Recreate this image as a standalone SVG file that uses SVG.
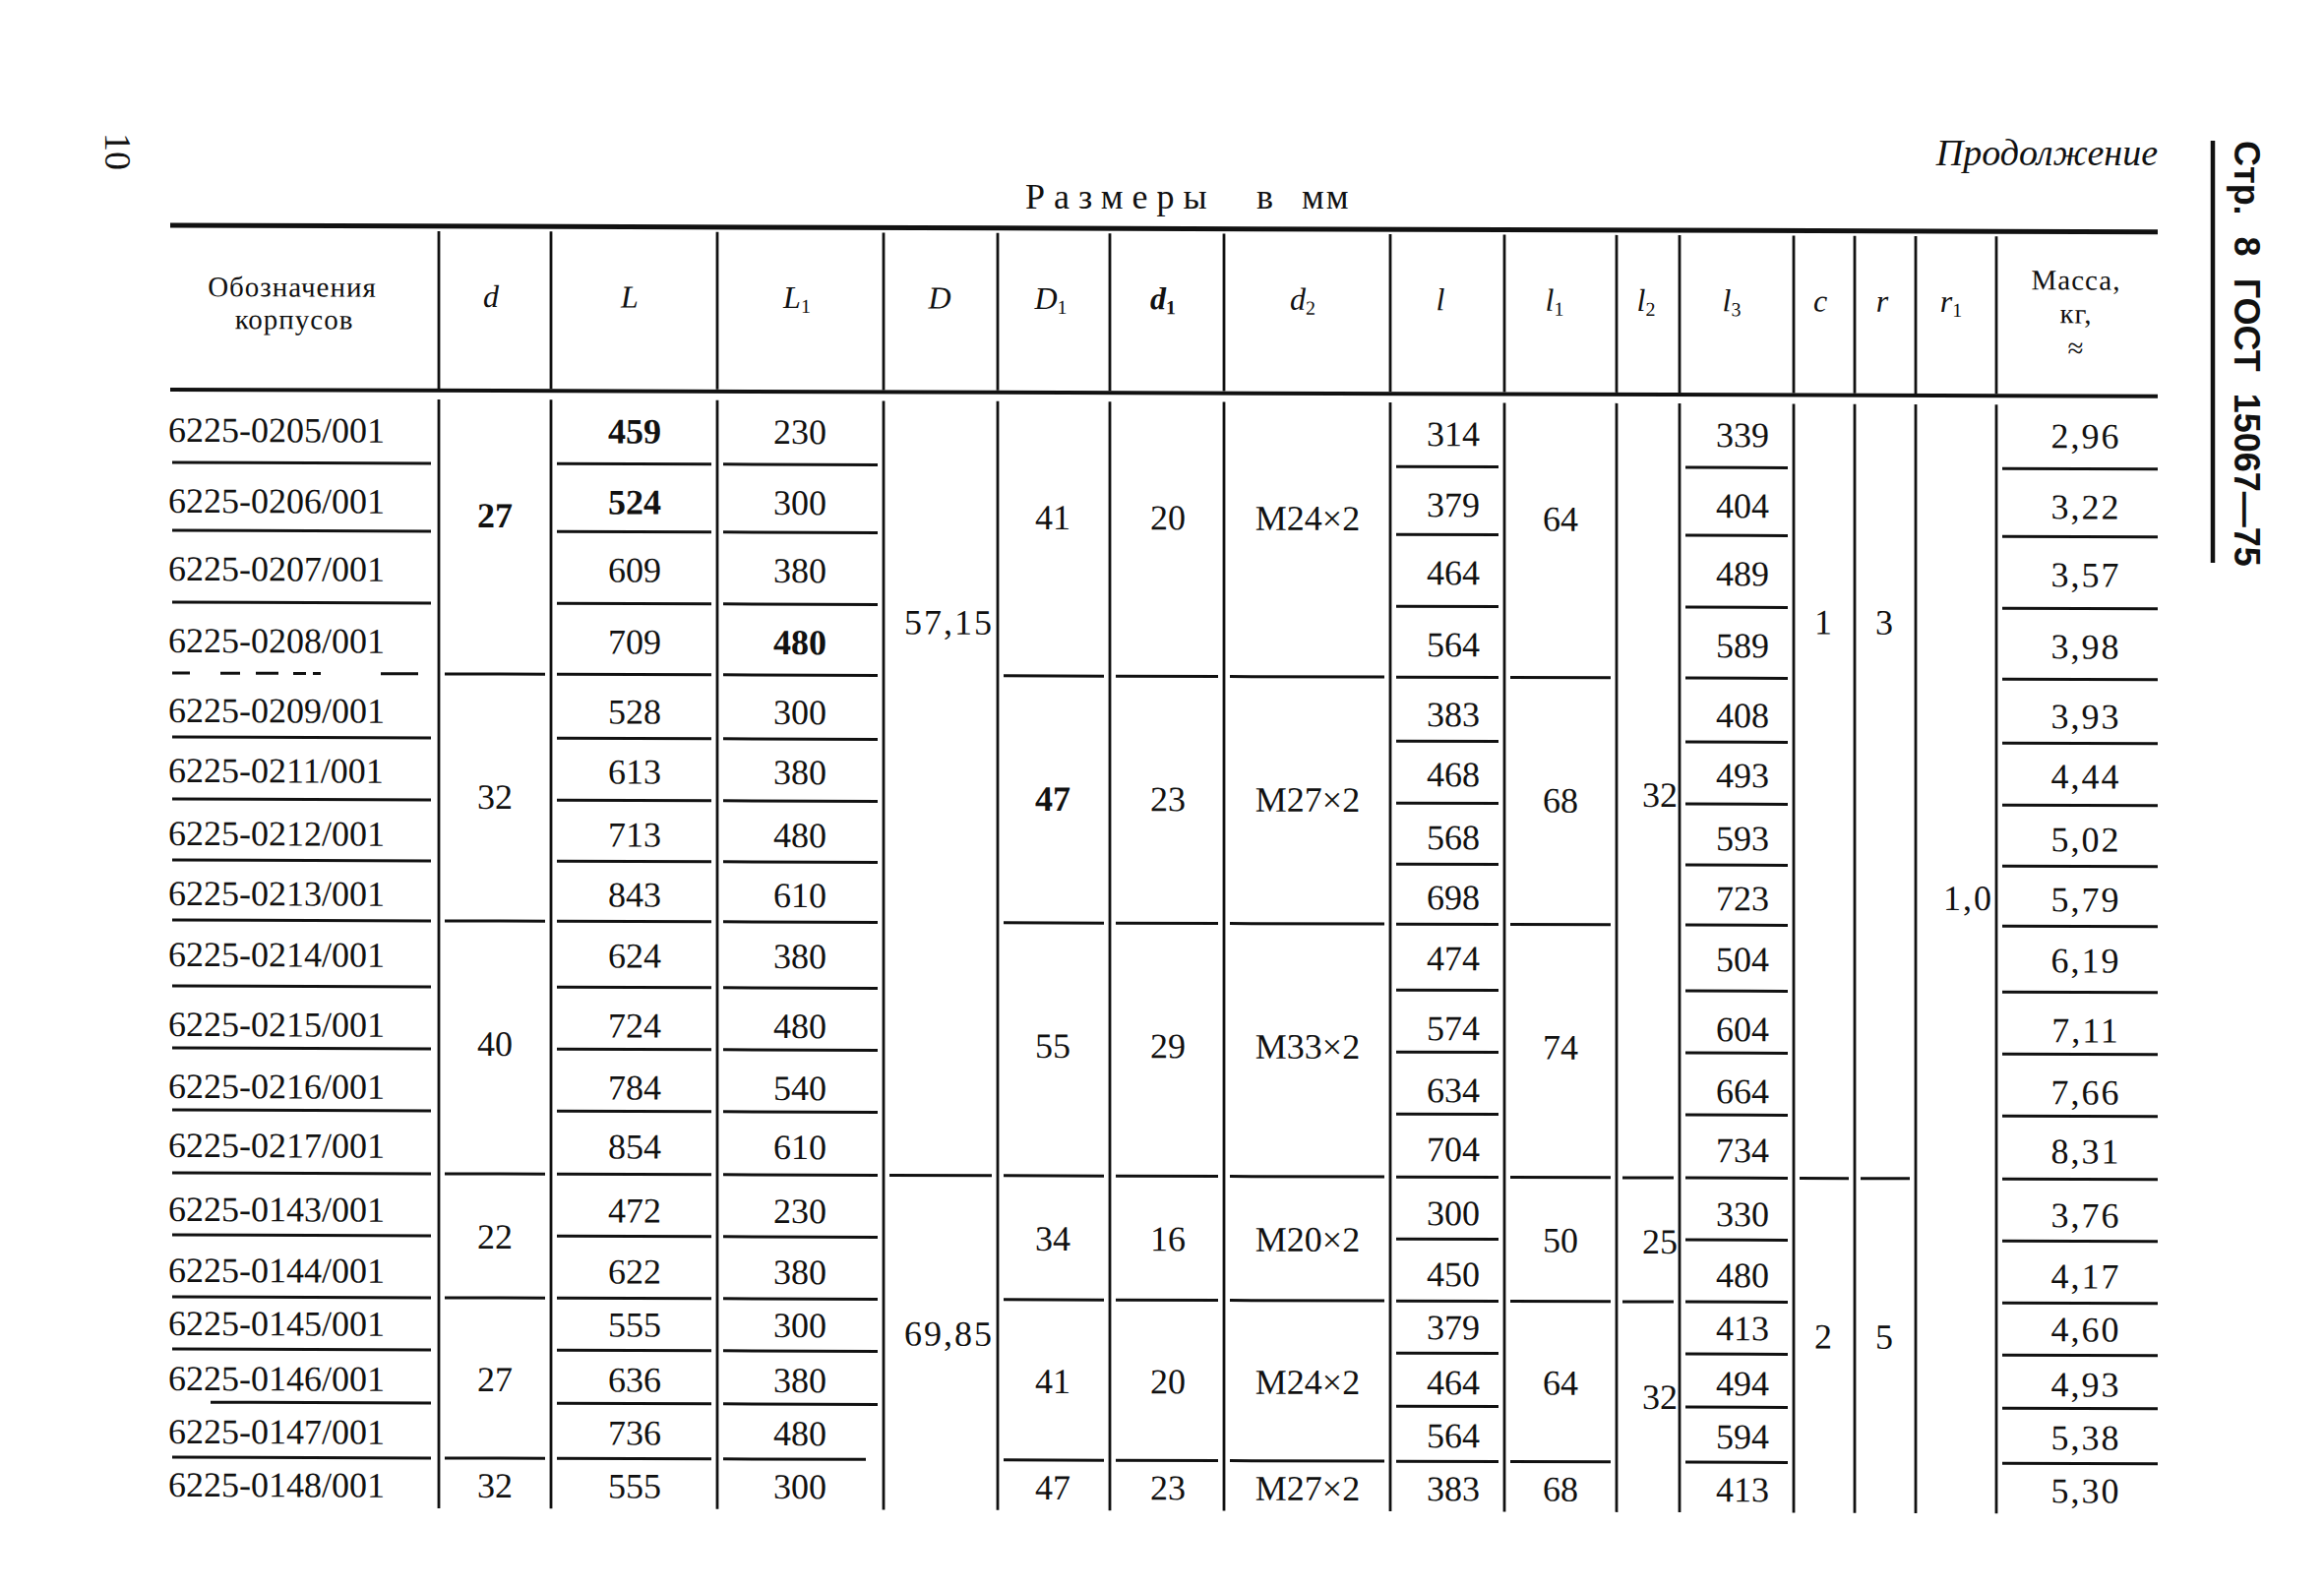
<svg xmlns="http://www.w3.org/2000/svg" width="2362" height="1615" viewBox="0 0 2362 1615">
<style>
.t{font-family:"Liberation Serif","Times New Roman",serif;fill:#111}
.v{font-size:36px;text-anchor:middle}
.s{font-size:36px}
.e{font-size:36px;text-anchor:end}
.b{font-weight:bold}
.h{font-size:32px;font-style:italic;text-anchor:middle}
.sub{font-size:20px;font-style:normal}
.hd{font-size:29px;text-anchor:middle;letter-spacing:1px}
.m{letter-spacing:2px}
.ln{stroke:#111;stroke-width:3;fill:none}
.vl{stroke:#111;stroke-width:2.8;fill:none}
</style>
<rect width="2362" height="1615" fill="#fff"/>

<g id="page-number">
<text class="t" font-size="38" transform="translate(107,135) rotate(90)">10</text>
</g>

<g id="side-title">
<line x1="2249" y1="143" x2="2249" y2="572" stroke="#111" stroke-width="4.5"/>
<text transform="translate(2271,143) rotate(90)" font-family="Liberation Sans, Arial, sans-serif" font-weight="bold" font-size="36" word-spacing="12" fill="#111">Стр. 8 ГОСТ 15067—75</text>
</g>

<g id="captions">
<text class="t" x="2193" y="168" font-size="38" font-style="italic" text-anchor="end">Продолжение</text>
<text class="t" y="212" font-size="36"><tspan x="1042" letter-spacing="9">Размеры</tspan><tspan x="1268"> в</tspan><tspan x="1323" letter-spacing="2">мм</tspan></text>
</g>

<g id="table" transform="translate(0,-0.574) skewY(0.19)">
<g id="rules">
<line x1="173" y1="229" x2="2193" y2="229" stroke="#111" stroke-width="5"/>
<line x1="173" y1="396" x2="2193" y2="396" stroke="#111" stroke-width="4"/>
<path class="vl" d="M446 234V394M560 234V394M729 234V394M898 234V394M1014 234V394M1128 234V394M1244 234V394M1413 234V394M1529 234V394M1643 234V394M1707 234V394M1823 234V394M1885 234V394M1947 234V394M2029 234V394"/>
<path class="vl" d="M446 405V1532M560 405V1532M729 405V1532M898 405V1532M1014 405V1532M1128 405V1532M1244 405V1532M1413 405V1532M1529 405V1532M1643 405V1532M1707 405V1532M1823 405V1532M1885 405V1532M1947 405V1532M2029 405V1532"/>
<path class="ln" d="M175 470H438M175 539H438M175 612H438M175 749H438M175 812H438M175 874H438M175 935H438M175 1002H438M175 1065H438M175 1128H438M175 1192H438M175 1255H438M175 1318H438M175 1371H438M214 1425H438M175 1481H438"/>
<path class="ln" stroke-width="2.2" d="M175 684H193M224 684H244M260 684H283M298 684H311M318 684H326M387 684H425"/>
<path class="ln" d="M566 470H723M566 539H723M566 612H723M566 684H723M566 749H723M566 812H723M566 874H723M566 935H723M566 1002H723M566 1065H723M566 1128H723M566 1192H723M566 1255H723M566 1318H723M566 1371H723M566 1425H723M566 1481H723"/>
<path class="ln" d="M735 470H892M735 539H892M735 612H892M735 684H892M735 749H892M735 812H892M735 874H892M735 935H892M735 1002H892M735 1065H892M735 1128H892M735 1192H892M735 1255H892M735 1318H892M735 1371H892M735 1425H892M735 1481H880"/>
<path class="ln" d="M1419 470H1523M1419 539H1523M1419 612H1523M1419 684H1523M1419 749H1523M1419 812H1523M1419 874H1523M1419 935H1523M1419 1002H1523M1419 1065H1523M1419 1128H1523M1419 1192H1523M1419 1255H1523M1419 1318H1523M1419 1371H1523M1419 1425H1523M1419 1481H1523"/>
<path class="ln" d="M1713 470H1817M1713 539H1817M1713 612H1817M1713 684H1817M1713 749H1817M1713 812H1817M1713 874H1817M1713 935H1817M1713 1002H1817M1713 1065H1817M1713 1128H1817M1713 1192H1817M1713 1255H1817M1713 1318H1817M1713 1371H1817M1713 1425H1817M1713 1481H1817"/>
<path class="ln" d="M2035 470H2193M2035 539H2193M2035 612H2193M2035 684H2193M2035 749H2193M2035 812H2193M2035 874H2193M2035 935H2193M2035 1002H2193M2035 1065H2193M2035 1128H2193M2035 1192H2193M2035 1255H2193M2035 1318H2193M2035 1371H2193M2035 1425H2193M2035 1481H2193"/>
<path class="ln" d="M452 684H554M452 935H554M452 1192H554M452 1318H554M452 1481H554"/>
<path class="ln" d="M1020 684H1122M1020 935H1122M1020 1192H1122M1020 1318H1122M1020 1481H1122"/>
<path class="ln" d="M1134 684H1238M1134 935H1238M1134 1192H1238M1134 1318H1238M1134 1481H1238"/>
<path class="ln" d="M1250 684H1407M1250 935H1407M1250 1192H1407M1250 1318H1407M1250 1481H1407"/>
<path class="ln" d="M1535 684H1637M1535 935H1637M1535 1192H1637M1535 1318H1637M1535 1481H1637"/>
<path class="ln" d="M904 1192H1008M1829 1192H1879M1891 1192H1941M1649 1192H1701M1649 1318H1701"/>
</g>

<g id="header-labels" class="t">
<text class="hd" x="297" y="301">Обозначения</text>
<text class="hd" x="299" y="334">корпусов</text>
<text class="h" x="499" y="311">d</text>
<text class="h" x="640" y="311">L</text>
<text class="h" x="810" y="311">L<tspan class="sub" dy="5">1</tspan></text>
<text class="h" x="955" y="311">D</text>
<text class="h" x="1068" y="311">D<tspan class="sub" dy="5">1</tspan></text>
<text class="h b" x="1182" y="311">d<tspan class="sub" dy="5">1</tspan></text>
<text class="h" x="1324" y="311">d<tspan class="sub" dy="5">2</tspan></text>
<text class="h" x="1464" y="311">l</text>
<text class="h" x="1580" y="311">l<tspan class="sub" dy="5">1</tspan></text>
<text class="h" x="1673" y="311">l<tspan class="sub" dy="5">2</tspan></text>
<text class="h" x="1760" y="311">l<tspan class="sub" dy="5">3</tspan></text>
<text class="h" x="1850" y="311">c</text>
<text class="h" x="1913" y="311">r</text>
<text class="h" x="1983" y="311">r<tspan class="sub" dy="5">1</tspan></text>
<text class="hd" x="2110" y="288">Масса,</text>
<text class="hd" x="2110" y="322">кг,</text>
<text class="hd" x="2110" y="357">≈</text>
</g>

<g id="designations" class="t s">
<text x="171" y="449">6225-0205/001</text>
<text x="171" y="521">6225-0206/001</text>
<text x="171" y="590">6225-0207/001</text>
<text x="171" y="663">6225-0208/001</text>
<text x="171" y="734">6225-0209/001</text>
<text x="171" y="795">6225-0211/001</text>
<text x="171" y="859">6225-0212/001</text>
<text x="171" y="920">6225-0213/001</text>
<text x="171" y="982">6225-0214/001</text>
<text x="171" y="1053">6225-0215/001</text>
<text x="171" y="1116">6225-0216/001</text>
<text x="171" y="1176">6225-0217/001</text>
<text x="171" y="1241">6225-0143/001</text>
<text x="171" y="1303">6225-0144/001</text>
<text x="171" y="1357">6225-0145/001</text>
<text x="171" y="1413">6225-0146/001</text>
<text x="171" y="1467">6225-0147/001</text>
<text x="171" y="1521">6225-0148/001</text>
</g>

<g id="col-L" class="t v">
<text x="645" y="449" class="b">459</text>
<text x="645" y="521" class="b">524</text>
<text x="645" y="590">609</text>
<text x="645" y="663">709</text>
<text x="645" y="734">528</text>
<text x="645" y="795">613</text>
<text x="645" y="859">713</text>
<text x="645" y="920">843</text>
<text x="645" y="982">624</text>
<text x="645" y="1053">724</text>
<text x="645" y="1116">784</text>
<text x="645" y="1176">854</text>
<text x="645" y="1241">472</text>
<text x="645" y="1303">622</text>
<text x="645" y="1357">555</text>
<text x="645" y="1413">636</text>
<text x="645" y="1467">736</text>
<text x="645" y="1521">555</text>
</g>

<g id="col-L1" class="t v">
<text x="813" y="449">230</text>
<text x="813" y="521">300</text>
<text x="813" y="590">380</text>
<text x="813" y="663" class="b">480</text>
<text x="813" y="734">300</text>
<text x="813" y="795">380</text>
<text x="813" y="859">480</text>
<text x="813" y="920">610</text>
<text x="813" y="982">380</text>
<text x="813" y="1053">480</text>
<text x="813" y="1116">540</text>
<text x="813" y="1176">610</text>
<text x="813" y="1241">230</text>
<text x="813" y="1303">380</text>
<text x="813" y="1357">300</text>
<text x="813" y="1413">380</text>
<text x="813" y="1467">480</text>
<text x="813" y="1521">300</text>
</g>

<g id="col-d" class="t v">
<text x="503" y="535" class="b">27</text>
<text x="503" y="821">32</text>
<text x="503" y="1072">40</text>
<text x="503" y="1268">22</text>
<text x="503" y="1413">27</text>
<text x="503" y="1521">32</text>
</g>

<g id="col-D" class="t e m">
<text x="1010" y="642">57,15</text>
<text x="1010" y="1365">69,85</text>
</g>

<g id="col-D1" class="t v">
<text x="1070" y="535">41</text>
<text x="1070" y="821" class="b">47</text>
<text x="1070" y="1072">55</text>
<text x="1070" y="1268">34</text>
<text x="1070" y="1413">41</text>
<text x="1070" y="1521">47</text>
</g>

<g id="col-d1" class="t v">
<text x="1187" y="535">20</text>
<text x="1187" y="821">23</text>
<text x="1187" y="1072">29</text>
<text x="1187" y="1268">16</text>
<text x="1187" y="1413">20</text>
<text x="1187" y="1521">23</text>
</g>

<g id="col-d2" class="t v">
<text x="1329" y="535">M24×2</text>
<text x="1329" y="821">M27×2</text>
<text x="1329" y="1072">M33×2</text>
<text x="1329" y="1268">M20×2</text>
<text x="1329" y="1413">M24×2</text>
<text x="1329" y="1521">M27×2</text>
</g>

<g id="col-l" class="t v">
<text x="1477" y="449">314</text>
<text x="1477" y="521">379</text>
<text x="1477" y="590">464</text>
<text x="1477" y="663">564</text>
<text x="1477" y="734">383</text>
<text x="1477" y="795">468</text>
<text x="1477" y="859">568</text>
<text x="1477" y="920">698</text>
<text x="1477" y="982">474</text>
<text x="1477" y="1053">574</text>
<text x="1477" y="1116">634</text>
<text x="1477" y="1176">704</text>
<text x="1477" y="1241">300</text>
<text x="1477" y="1303">450</text>
<text x="1477" y="1357">379</text>
<text x="1477" y="1413">464</text>
<text x="1477" y="1467">564</text>
<text x="1477" y="1521">383</text>
</g>

<g id="col-l1" class="t v">
<text x="1586" y="535">64</text>
<text x="1586" y="821">68</text>
<text x="1586" y="1072">74</text>
<text x="1586" y="1268">50</text>
<text x="1586" y="1413">64</text>
<text x="1586" y="1521">68</text>
</g>

<g id="col-l2" class="t e">
<text x="1705" y="815">32</text>
<text x="1705" y="1269">25</text>
<text x="1705" y="1427">32</text>
</g>

<g id="col-l3" class="t v">
<text x="1771" y="449">339</text>
<text x="1771" y="521">404</text>
<text x="1771" y="590">489</text>
<text x="1771" y="663">589</text>
<text x="1771" y="734">408</text>
<text x="1771" y="795">493</text>
<text x="1771" y="859">593</text>
<text x="1771" y="920">723</text>
<text x="1771" y="982">504</text>
<text x="1771" y="1053">604</text>
<text x="1771" y="1116">664</text>
<text x="1771" y="1176">734</text>
<text x="1771" y="1241">330</text>
<text x="1771" y="1303">480</text>
<text x="1771" y="1357">413</text>
<text x="1771" y="1413">494</text>
<text x="1771" y="1467">594</text>
<text x="1771" y="1521">413</text>
</g>

<g id="col-c-r-r1" class="t">
<text class="v" x="1853" y="639">1</text>
<text class="v" x="1853" y="1365">2</text>
<text class="v" x="1915" y="639">3</text>
<text class="v" x="1915" y="1365">5</text>
<text class="e m" x="2026" y="919">1,0</text>
</g>

<g id="col-mass" class="t v m">
<text x="2120" y="449">2,96</text>
<text x="2120" y="521">3,22</text>
<text x="2120" y="590">3,57</text>
<text x="2120" y="663">3,98</text>
<text x="2120" y="734">3,93</text>
<text x="2120" y="795">4,44</text>
<text x="2120" y="859">5,02</text>
<text x="2120" y="920">5,79</text>
<text x="2120" y="982">6,19</text>
<text x="2120" y="1053">7,11</text>
<text x="2120" y="1116">7,66</text>
<text x="2120" y="1176">8,31</text>
<text x="2120" y="1241">3,76</text>
<text x="2120" y="1303">4,17</text>
<text x="2120" y="1357">4,60</text>
<text x="2120" y="1413">4,93</text>
<text x="2120" y="1467">5,38</text>
<text x="2120" y="1521">5,30</text>
</g>
</g>
</svg>
